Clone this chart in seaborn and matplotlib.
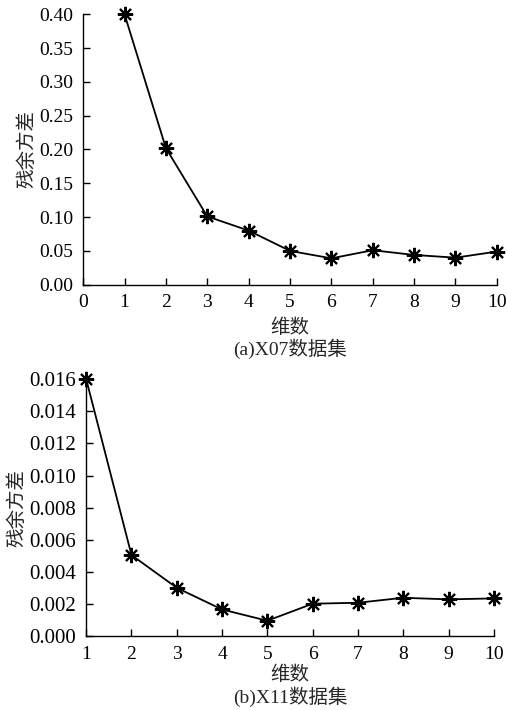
import seaborn as sns
import pandas as pd
from matplotlib import pyplot as plt

# values
dims = [1, 2, 3, 4, 5, 6, 7, 8, 9, 10]
var_x07 = [0.400, 0.202, 0.101, 0.080, 0.050, 0.039, 0.051, 0.044, 0.040, 0.049]
var_x11 = [0.0160, 0.00505, 0.00301, 0.00166, 0.00096, 0.00202, 0.00208, 0.00239, 0.00229, 0.00235]
yticks_a = [0.00, 0.05, 0.10, 0.15, 0.20, 0.25, 0.30, 0.35, 0.40]
yticks_b = [0.000, 0.002, 0.004, 0.006, 0.008, 0.010, 0.012, 0.014, 0.016]

sns.set_style("ticks")
plt.rcParams['font.family'] = ['Liberation Serif', 'Noto Sans CJK SC']
plt.rcParams['axes.linewidth'] = 1.0

fig = plt.figure(figsize=(5.07, 7.10), dpi=100)
ax1 = fig.add_axes([0.164, 0.599, 0.816, 0.381])
ax2 = fig.add_axes([0.170, 0.104, 0.804, 0.362])

star = (8, 2, 0)

def draw_panel(ax, y_val, xlim, xticks, yticks, fmt, caption, ysize, xpad, cap_y):
    df = pd.DataFrame({'dim': dims, 'value': y_val})
    sns.lineplot(data=df, x='dim', y='value', ax=ax, color='black', linewidth=1.3,
                 marker=star, markersize=11, markeredgewidth=1.5, markeredgecolor='black',
                 clip_on=False)
    ax.set_xlim(*xlim)
    ax.set_ylim(yticks[0], yticks[-1])
    ax.set_xticks(xticks)
    ax.set_yticks(yticks)
    ax.set_yticklabels([fmt.format(v) for v in yticks])
    ax.tick_params(direction='in', length=5, width=1.0, colors='black')
    ax.tick_params(axis='x', labelsize=14, pad=7)
    ax.tick_params(axis='y', labelsize=ysize, pad=7)
    sns.despine(ax=ax)
    for s in ['left', 'bottom']:
        ax.spines[s].set_color('black')
    ax.set_xlabel('维数', fontsize=14, labelpad=xpad)
    ax.set_ylabel('残余方差', fontsize=14, labelpad=2)
    ax.text(0.5, cap_y, caption, transform=ax.transAxes, ha='center', va='center', fontsize=14)

draw_panel(ax1, var_x07, (0, 10), list(range(0, 11)), yticks_a, '{:.2f}', '(a)X07数据集', 14, 5, -0.236)
draw_panel(ax2, var_x11, (1, 10), dims, yticks_b, '{:.3f}', '(b)X11数据集', 15, 2, -0.237)

plt.savefig('out.png', dpi=100)
